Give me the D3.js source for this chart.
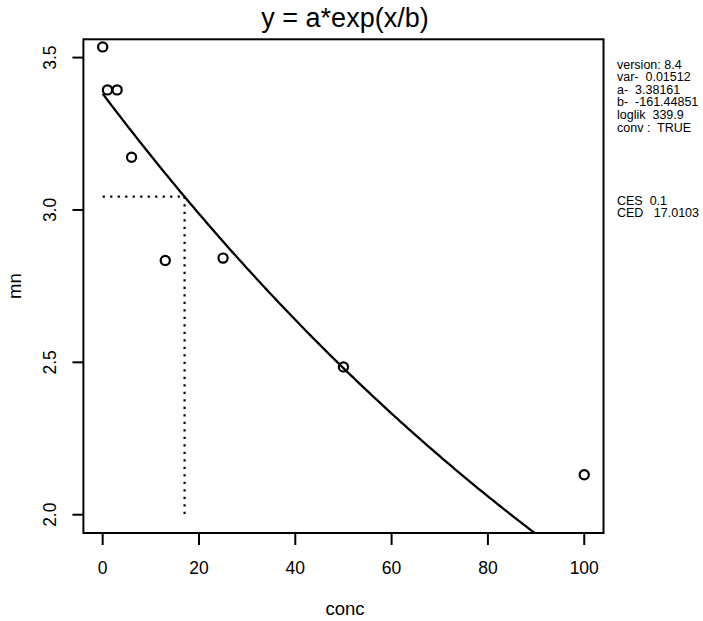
<!DOCTYPE html>
<html>
<head>
<meta charset="utf-8">
<script src="https://cdn.jsdelivr.net/npm/d3@7"></script>
<style>
  html, body { margin: 0; padding: 0; background: #fff; }
  svg text { font-family: "Liberation Sans", Arial, Helvetica, sans-serif; fill: #000; white-space: pre; }
</style>
</head>
<body>
<svg id="chart" width="703" height="621"></svg>
<script>
// ---- data ----
const conc = [0, 1, 3, 6, 13, 25, 50, 100];
const mn   = [3.535, 3.394, 3.394, 3.173, 2.834, 2.842, 2.485, 2.131];
const xTicks = [0, 20, 40, 60, 80, 100];
const yTicks = [2.0, 2.5, 3.0, 3.5];
const yTickLabels = ["2.0", "2.5", "3.0", "3.5"];
const paramA = 3.38161;
const paramB = -161.44851;
const CES = 0.1;
const CED = 17.0103;
const infoLines = ["version: 8.4", "var-  0.01512", "a-  3.38161", "b-  -161.44851", "loglik  339.9", "conv :  TRUE"];
const cesLines = ["CES  0.1", "CED   17.0103"];
const title = "y = a*exp(x/b)";
const xLabel = "conc";
const yLabel = "mn";

// ---- layout ----
const svg = d3.select("#chart");
const pL = 83.4, pR = 603.5, pT = 39.3, pB = 533;
const x = d3.scaleLinear().domain([-4, 104]).range([pL, pR]);
const y = d3.scaleLinear().domain([1.94, 3.56]).range([pB, pT]);

svg.append("defs").append("clipPath").attr("id", "plotclip")
  .append("rect").attr("x", pL).attr("y", pT).attr("width", pR - pL).attr("height", pB - pT);

// box
svg.append("rect").attr("x", pL).attr("y", pT).attr("width", pR - pL).attr("height", pB - pT)
  .attr("fill", "none").attr("stroke", "#000").attr("stroke-width", 2);

// x axis ticks
const gx = svg.append("g");
gx.selectAll("line").data(xTicks).join("line")
  .attr("x1", d => x(d)).attr("x2", d => x(d))
  .attr("y1", pB).attr("y2", pB + 12)
  .attr("stroke", "#000").attr("stroke-width", 2);
gx.selectAll("text").data(xTicks).join("text")
  .attr("x", d => x(d)).attr("y", 574)
  .attr("text-anchor", "middle").attr("font-size", 17.5)
  .text(d => d);

// y axis ticks
const gy = svg.append("g");
gy.selectAll("line").data(yTicks).join("line")
  .attr("x1", pL - 11).attr("x2", pL)
  .attr("y1", d => y(d)).attr("y2", d => y(d))
  .attr("stroke", "#000").attr("stroke-width", 2);
gy.selectAll("text").data(yTicks).join("text")
  .attr("transform", d => `translate(56,${y(d)}) rotate(-90)`)
  .attr("text-anchor", "middle").attr("font-size", 17.5)
  .text((d, i) => yTickLabels[i]);

// axis labels
svg.append("text").attr("x", 345).attr("y", 615)
  .attr("text-anchor", "middle").attr("font-size", 18.5).text(xLabel);
svg.append("text").attr("transform", `translate(21,${(pT + pB) / 2}) rotate(-90)`)
  .attr("text-anchor", "middle").attr("font-size", 18.5).text(yLabel);

// title
svg.append("text").attr("x", 345).attr("y", 27)
  .attr("text-anchor", "middle").attr("font-size", 27)
  .text(title);

// fitted curve
const plot = svg.append("g").attr("clip-path", "url(#plotclip)");
const curveX = d3.range(0, 100.01, 0.5);
plot.append("path")
  .datum(curveX)
  .attr("d", d3.line().x(d => x(d)).y(d => y(paramA * Math.exp(d / paramB))))
  .attr("fill", "none").attr("stroke", "#000").attr("stroke-width", 2.3);

// CED dotted lines
const yCed = paramA * (1 - CES);
plot.append("line")
  .attr("x1", x(0)).attr("x2", x(CED)).attr("y1", y(yCed)).attr("y2", y(yCed))
  .attr("stroke", "#000").attr("stroke-width", 2.2).attr("stroke-dasharray", "2.2,5.3");
plot.append("line")
  .attr("x1", x(CED)).attr("x2", x(CED)).attr("y1", y(yCed)).attr("y2", y(2.0))
  .attr("stroke", "#000").attr("stroke-width", 2.2).attr("stroke-dasharray", "2.2,5.3");

// points
svg.append("g").selectAll("circle").data(conc).join("circle")
  .attr("cx", d => x(d)).attr("cy", (d, i) => y(mn[i])).attr("r", 4.6)
  .attr("fill", "none").attr("stroke", "#000").attr("stroke-width", 2.2);

// right side info text
svg.append("g").selectAll("text").data(infoLines).join("text")
  .attr("x", 617).attr("y", (d, i) => 68.5 + i * 12.6)
  .attr("font-size", 12.5).text(d => d);
svg.append("g").selectAll("text").data(cesLines).join("text")
  .attr("x", 617).attr("y", (d, i) => 204.5 + i * 12.6)
  .attr("font-size", 12.5).text(d => d);
</script>
</body>
</html>
